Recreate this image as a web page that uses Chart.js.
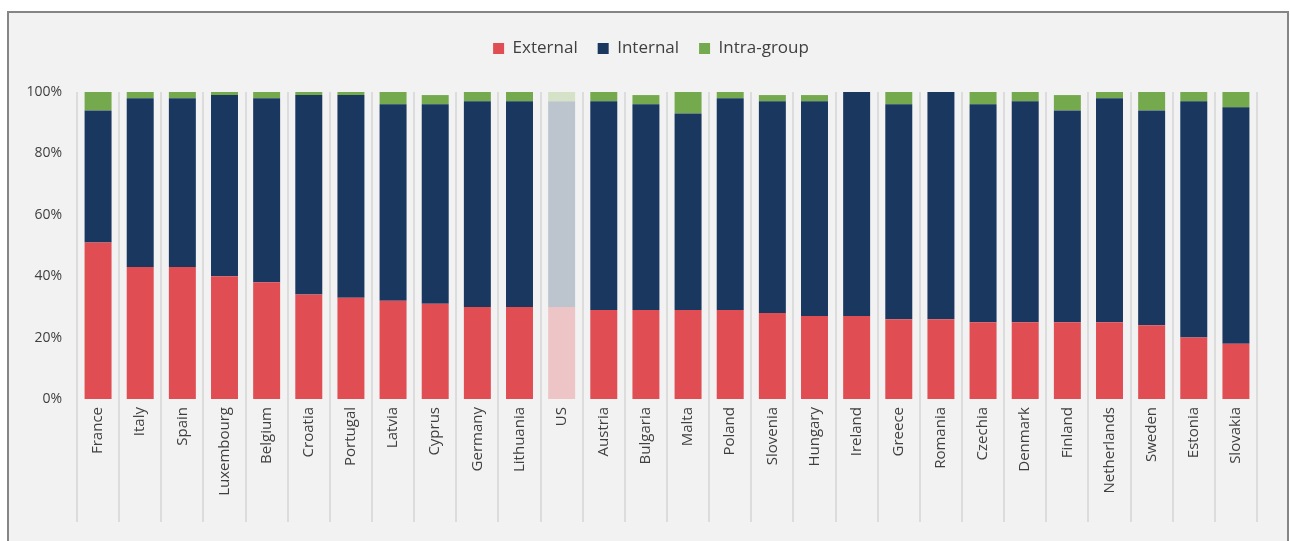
<!DOCTYPE html>
<html lang="en">
<head>
    <meta charset="UTF-8">
    <title>External, internal and intra-group shares</title>
    <script src="https://cdn.jsdelivr.net/npm/chart.js@4.4.1/dist/chart.umd.min.js"></script>
    <style>
        body {
            margin: 0;
            background-color: #ffffff;
            font-family: "Open Sans", sans-serif;
        }
        .frame {
            position: absolute;
            left: 7px;
            top: 11px;
            width: 1278px;
            height: 600px;
            border: 2px solid #858585;
            background-color: #f2f2f2;
        }
        .chart-box {
            position: relative;
            width: 1278px;
            height: 528px;
        }
    </style>
</head>
<body>
    <div class="frame">
        <div class="chart-box">
            <canvas id="shareChart"></canvas>
        </div>
    </div>

    <script>
        const countries = ['France', 'Italy', 'Spain', 'Luxembourg', 'Belgium', 'Croatia', 'Portugal', 'Latvia', 'Cyprus',
            'Germany', 'Lithuania', 'US', 'Austria', 'Bulgaria', 'Malta', 'Poland', 'Slovenia', 'Hungary', 'Ireland',
            'Greece', 'Romania', 'Czechia', 'Denmark', 'Finland', 'Netherlands', 'Sweden', 'Estonia', 'Slovakia'];

        const external   = [51, 43, 43, 40, 38, 34, 33, 32, 31, 30, 30, 30, 29, 29, 29, 29, 28, 27, 27, 26, 26, 25, 25, 25, 25, 24, 20, 18];
        const internal   = [43, 55, 55, 59, 60, 65, 66, 64, 65, 67, 67, 67, 68, 67, 64, 69, 69, 70, 73, 70, 74, 71, 72, 69, 73, 70, 77, 77];
        const intraGroup = [6, 2, 2, 1, 2, 1, 1, 4, 3, 3, 3, 3, 3, 3, 7, 2, 2, 2, 0, 4, 0, 4, 3, 5, 2, 6, 3, 5];

        const yTicks = [0, 20, 40, 60, 80, 100];

        // the US bar is shown faded
        function shade(strong, faded) {
            return countries.map(c => c === 'US' ? faded : strong);
        }

        // fixed legend height, and nudge it right to sit where the original does
        const legendFit = {
            id: 'legendFit',
            beforeInit(chart) {
                const fit = chart.legend.fit;
                chart.legend.fit = function() {
                    fit.call(this);
                    this.height = 72;
                };
            },
            afterLayout(chart) {
                chart.legend.left += 18;
                chart.legend.right += 18;
            }
        };

        const ctx = document.getElementById('shareChart').getContext('2d');
        new Chart(ctx, {
            type: 'bar',
            data: {
                labels: countries,
                datasets: [
                    { label: 'External', data: external, backgroundColor: shade('#e04e54', '#eec5c7') },
                    { label: 'Internal', data: internal, backgroundColor: shade('#19375f', '#bcc4ce') },
                    { label: 'Intra-group', data: intraGroup, backgroundColor: shade('#75a94e', '#d5e2c8') }
                ]
            },
            plugins: [legendFit],
            options: {
                responsive: true,
                maintainAspectRatio: false,
                animation: false,
                layout: { padding: { top: 7, right: 30, bottom: 19, left: 0 } },
                datasets: {
                    bar: { barPercentage: 0.64, categoryPercentage: 1 }
                },
                scales: {
                    x: {
                        stacked: true,
                        afterFit: s => { s.height = 123; },
                        grid: { offset: true, color: '#dcdcdc', lineWidth: 2, tickLength: 123, tickColor: '#dcdcdc' },
                        border: { display: false },
                        ticks: {
                            minRotation: 90, maxRotation: 90, autoSkip: false, padding: -115,
                            color: '#404040', font: { family: 'Open Sans', size: 15 }
                        }
                    },
                    y: {
                        stacked: true,
                        min: 0,
                        max: 100,
                        afterFit: s => { s.width = 68; },
                        afterBuildTicks: s => { s.ticks = yTicks.map(v => ({ value: v })); },
                        grid: { display: false, drawTicks: false },
                        border: { display: false },
                        ticks: {
                            padding: 15,
                            color: '#404040',
                            font: { family: 'Open Sans', size: 14 },
                            callback: v => v + '%'
                        }
                    }
                },
                plugins: {
                    legend: {
                        position: 'top',
                        labels: {
                            boxWidth: 11, boxHeight: 11, padding: 20,
                            color: '#404040', font: { family: 'Open Sans', size: 17 }
                        }
                    },
                    tooltip: { enabled: false }
                }
            }
        });
    </script>
</body>
</html>
